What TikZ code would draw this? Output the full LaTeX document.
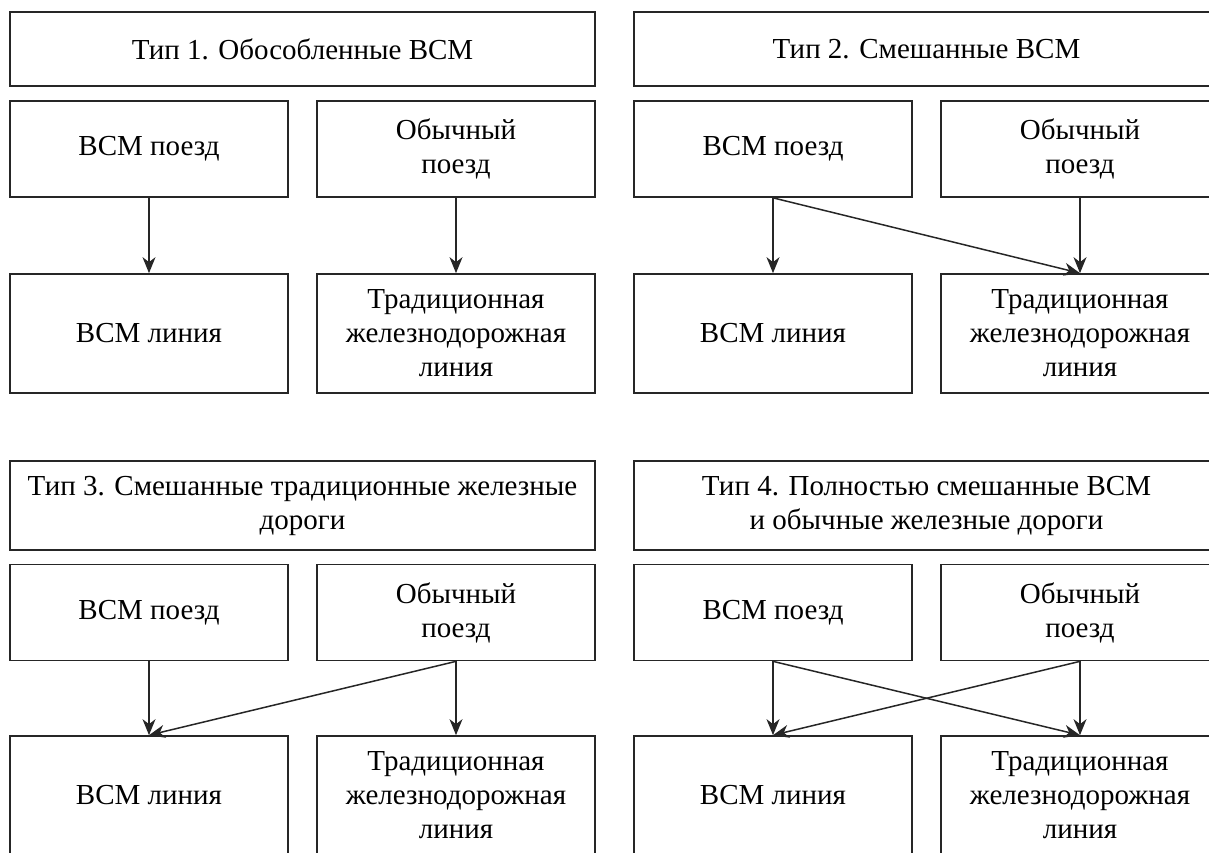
\documentclass[tikz,border=0pt]{standalone}
\usepackage{fontspec}
\setmainfont{Liberation Serif}
\usepackage{tikz}
\usetikzlibrary{arrows.meta, positioning}

\begin{document}
\begin{tikzpicture}[x=0.5pt, y=-0.5pt,
  box/.style={draw=black!85, line width=0.85pt, inner sep=0pt, align=center,
    font=\fontsize{14.5}{17}\selectfont},
  titlebox/.style={box, minimum width=292.5pt, minimum height=37pt},
  trainbox/.style={box, minimum width=139pt, minimum height=48pt},
  linebox/.style={box, minimum width=139pt, minimum height=59.5pt},
  link/.style={draw=black!85, line width=0.75pt, -{Stealth[length=8pt, width=6.5pt, inset=2.5pt]}}]
  \useasboundingbox (0,0) rectangle (1209,852);
  \clip (0,0) rectangle (1209,852);

  % Type 1
  \node[titlebox] (t1) at (302.5,49) {Тип 1. Обособленные ВСМ};
  \node[trainbox] (hs1) at (149,149) {ВСМ поезд};
  \node[trainbox] (ct1) at (456,149) {Обычный\\поезд};
  \node[linebox]  (hl1) at (149,333.5) {ВСМ линия};
  \node[linebox]  (tl1) at (456,333.5) {Традиционная\\железнодорожная\\линия};
  \draw[link] (hs1.south) -- (hl1.north);
  \draw[link] (ct1.south) -- (tl1.north);

  % Type 2
  \node[titlebox] (t2) at (926.5,49) {Тип 2. Смешанные ВСМ};
  \node[trainbox] (hs2) at (773,149) {ВСМ поезд};
  \node[trainbox] (ct2) at (1080,149) {Обычный\\поезд};
  \node[linebox]  (hl2) at (773,333.5) {ВСМ линия};
  \node[linebox]  (tl2) at (1080,333.5) {Традиционная\\железнодорожная\\линия};
  \draw[link] (hs2.south) -- (hl2.north);
  \draw[link] (ct2.south) -- (tl2.north);
  \draw[link] (hs2.south) -- (tl2.north);

  % Type 3
  \node[titlebox, minimum height=44.5pt] (t3) at (302.5,505.5)
    {Тип 3. Смешанные традиционные железные\\дороги};
  \node[trainbox] (hs3) at (149,612.5) {ВСМ поезд};
  \node[trainbox] (ct3) at (456,612.5) {Обычный\\поезд};
  \node[linebox]  (hl3) at (149,795.5) {ВСМ линия};
  \node[linebox]  (tl3) at (456,795.5) {Традиционная\\железнодорожная\\линия};
  \draw[link] (hs3.south) -- (hl3.north);
  \draw[link] (ct3.south) -- (tl3.north);
  \draw[link] (ct3.south) -- (hl3.north);

  % Type 4
  \node[titlebox, minimum height=44.5pt] (t4) at (926.5,505.5)
    {Тип 4. Полностью смешанные ВСМ\\и обычные железные дороги};
  \node[trainbox] (hs4) at (773,612.5) {ВСМ поезд};
  \node[trainbox] (ct4) at (1080,612.5) {Обычный\\поезд};
  \node[linebox]  (hl4) at (773,795.5) {ВСМ линия};
  \node[linebox]  (tl4) at (1080,795.5) {Традиционная\\железнодорожная\\линия};
  \draw[link] (hs4.south) -- (hl4.north);
  \draw[link] (ct4.south) -- (tl4.north);
  \draw[link] (hs4.south) -- (tl4.north);
  \draw[link] (ct4.south) -- (hl4.north);
\end{tikzpicture}
\end{document}
